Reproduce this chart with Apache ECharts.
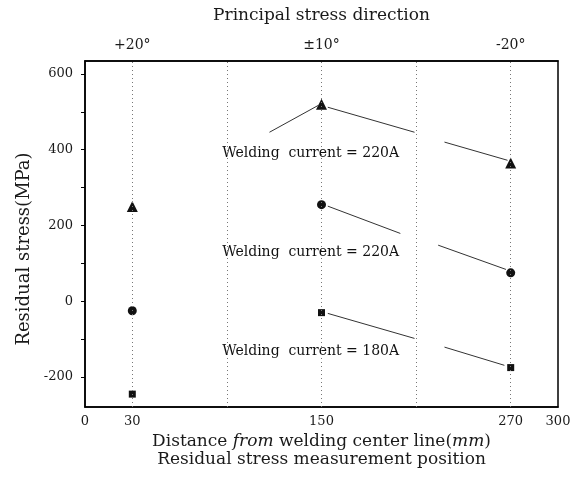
<!DOCTYPE html>
<html>
<head>
<meta charset="utf-8">
<script src="https://cdn.jsdelivr.net/npm/echarts@6/dist/echarts.min.js"></script>
<style>
  html, body { margin: 0; padding: 0; background: #fff; }
  #chart { width: 577px; height: 481px; }
</style>
</head>
<body>
<div id="chart"></div>
<script>
// measurement positions, mm from the welding center line
const positions = [30, 150, 270];
const directionLabels = ['+20°', '±10°', '-20°'];
const xTickLabels = [0, 30, 150, 270, 300];
const yTickLabels = [-200, 0, 200, 400, 600];
const yTicks = [-200, -100, 0, 100, 200, 300, 400, 500, 600];
const dottedX = [30, 90, 150, 210, 270];

// residual stress (MPa)
const stressTriangle = [250, 520, 365];   // 220A
const stressCircle = [-25, 255, 75];      // 220A
const stressSquare = [-245, -30, -175];   // 180A

// leader lines from the notes, data units [[x1, y1], [x2, y2]]
const leaders = [
  [[117, 446], [148, 517]],
  [[154, 512], [209, 446]],
  [[228, 420], [268, 372]],
  [[154, 251], [200, 179]],
  [[224, 148], [267, 84]],
  [[154, -32], [209, -98]],
  [[228, -121], [266, -169]]
];

// notes: [x, y, text]
const notes = [
  [87, 390, 'Welding  current = 220A'],
  [87, 129, 'Welding  current = 220A'],
  [87, -132, 'Welding  current = 180A']
];

const serif = 'DejaVu Serif';
const ink = '#111';
const textInk = '#1a1a1a';

const chart = echarts.init(document.getElementById('chart'));

const pts = (vals) => positions.map((x, i) => [x, vals[i]]);

chart.setOption({
  animation: false,
  backgroundColor: '#fff',
  grid: {
    left: 85, right: 19, top: 61, bottom: 74,
    show: true, borderColor: '#000', borderWidth: 1.5
  },
  xAxis: [
    {
      type: 'value', position: 'bottom', min: 0, max: 300,
      axisLine: { onZero: false, lineStyle: { color: '#000', width: 1.5 } },
      axisTick: { show: false },
      splitLine: { show: false },
      axisLabel: {
        customValues: xTickLabels, margin: 8,
        color: textInk, fontFamily: serif, fontSize: 13
      },
      name: '{a|Distance }{i|from}{a| welding center line(}{i|mm}{a|)}\n{a|Residual stress measurement position}',
      nameLocation: 'middle', nameGap: 23,
      nameTextStyle: {
        lineHeight: 18,
        rich: {
          a: { fontFamily: serif, fontSize: 17, color: textInk, lineHeight: 18 },
          i: { fontFamily: serif, fontSize: 17, color: textInk, fontStyle: 'italic', lineHeight: 18 }
        }
      }
    },
    {
      type: 'value', position: 'top', min: 0, max: 300,
      axisLine: { onZero: false, lineStyle: { color: '#000', width: 1.5 } },
      axisTick: { show: false },
      splitLine: { show: false },
      axisLabel: {
        customValues: positions, margin: 9,
        formatter: (v) => directionLabels[positions.indexOf(v)],
        color: textInk, fontFamily: serif, fontSize: 14
      },
      name: 'Principal stress direction',
      nameLocation: 'middle', nameGap: 37,
      nameTextStyle: { fontFamily: serif, fontSize: 17, color: textInk }
    }
  ],
  yAxis: {
    type: 'value', min: -279, max: 634,
    axisLine: { show: true, onZero: false, lineStyle: { color: '#000', width: 1.5 } },
    axisTick: { show: true, customValues: yTicks, length: 4, lineStyle: { color: '#000' } },
    splitLine: { show: false },
    axisLabel: {
      customValues: yTickLabels, margin: 12,
      color: textInk, fontFamily: serif, fontSize: 13
    },
    name: 'Residual stress(MPa)',
    nameLocation: 'middle', nameGap: 50,
    nameTextStyle: { fontFamily: serif, fontSize: 18, color: textInk, padding: [0, 30, 0, 0] }
  },
  series: [
    {
      type: 'scatter', name: 'grid', data: [], silent: true,
      markLine: {
        silent: true, symbol: 'none', label: { show: false },
        lineStyle: { color: '#777', type: [1, 3], width: 1 },
        data: dottedX.map((x) => ({ xAxis: x }))
      }
    },
    {
      type: 'scatter', name: 'leaders', data: [], silent: true,
      markLine: {
        silent: true, symbol: 'none', label: { show: false },
        lineStyle: { color: '#333', type: 'solid', width: 1 },
        data: leaders.map((l) => [{ coord: l[0] }, { coord: l[1] }])
      }
    },
    {
      type: 'scatter', name: 'notes', data: notes, symbolSize: 0, silent: true,
      itemStyle: { opacity: 1 },
      label: {
        show: true, position: 'right', distance: 0,
        formatter: (p) => p.data[2],
        fontFamily: serif, fontSize: 14, color: '#111'
      }
    },
    {
      type: 'scatter', name: '220A triangle', data: pts(stressTriangle),
      symbol: 'triangle', symbolSize: 11, itemStyle: { color: ink, opacity: 1 }
    },
    {
      type: 'scatter', name: '220A circle', data: pts(stressCircle),
      symbol: 'circle', symbolSize: 9, itemStyle: { color: ink, opacity: 1 }
    },
    {
      type: 'scatter', name: '180A square', data: pts(stressSquare),
      symbol: 'rect', symbolSize: 7, itemStyle: { color: ink, opacity: 1 }
    }
  ]
});
</script>
</body>
</html>
